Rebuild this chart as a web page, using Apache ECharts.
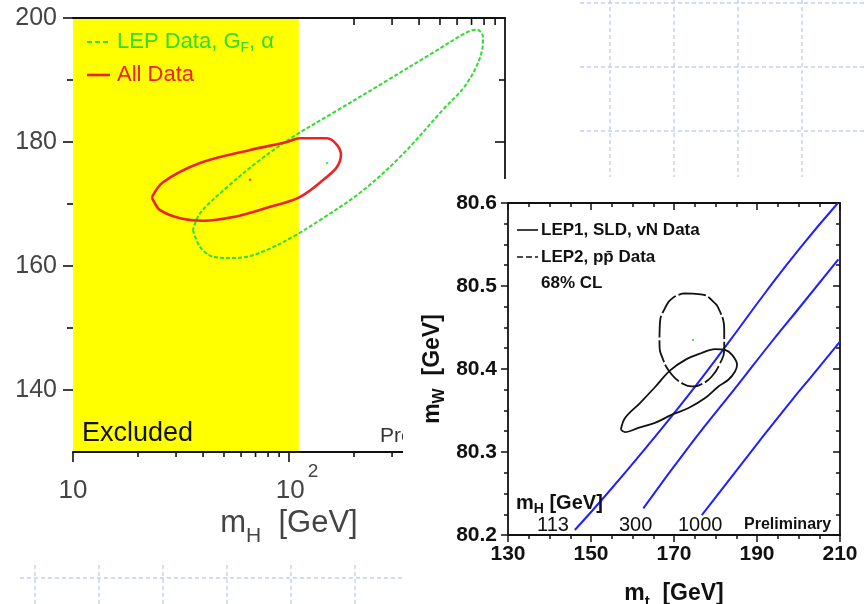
<!DOCTYPE html>
<html><head><meta charset="utf-8">
<script src="https://cdn.jsdelivr.net/npm/echarts@6/dist/echarts.min.js"></script>
<style>html,body{margin:0;padding:0;background:#fff}#c{width:865px;height:604px}</style>
</head><body><div id="c"></div>
<script>
// ===== Left panel: m_t [GeV] vs m_H [GeV] (log) =====
const leftXRange = [10, 1000];
const leftYRange = [130, 200];
const excludedBand = [10, 111];           // m_H excluded (yellow)
const leftXMinorTicks = [20,30,40,50,60,70,80,90,200,300,400,500,600,700,800,900];
const leftYMajorTicks = [140,160,180,200];
const leftYMinorTicks = [150,170,190];
const lepDataCurve = [[35.9,165.8],[38.7,163.1],[44.5,161.5],[53.3,161.3],[63.9,161.5],[79.1,162.6],[104,164.7],[139,167.4],[213,171.8],[327,177.6],[516,185.2],[667,189.5],[783,194.8],[791,196.9],[742,198.1],[667,197.7],[464,194.4],[272,189.5],[160,184.7],[104,180.8],[73.4,177.1],[51.6,172.7],[38.7,168.5],[35.9,165.8]];
const allDataCurve = [[23.2,171.1],[26.1,173.5],[38.7,176.6],[66.0,178.7],[97.9,180.0],[112,180.6],[150,180.6],[167,179.5],[174,177.9],[167,176.0],[150,174.4],[112,171.1],[79.1,169.4],[55.1,167.9],[40.0,167.3],[31.3,167.7],[25.3,169.0],[23.5,170.6],[23.2,171.1]];
const lepDataCenter = [[150,176.6]];
const allDataCenter = [[66,173.9]];

// ===== Right panel: m_W [GeV] vs m_t [GeV] =====
const rightXRange = [130, 210];
const rightYRange = [80.2, 80.6];
const lep1Curve = [[157.2,80.327],[158.2,80.341],[161.8,80.359],[165.4,80.378],[169.0,80.398],[172.7,80.411],[176.5,80.419],[179.9,80.424],[182.3,80.423],[184.0,80.417],[185.2,80.405],[184.7,80.397],[183.1,80.387],[180.7,80.379],[177.5,80.365],[173.5,80.353],[169.5,80.345],[165.4,80.335],[161.4,80.329],[158.2,80.324],[157.2,80.327]];
const lep2Curve = [[172.4,80.491],[176.5,80.490],[179.1,80.483],[181.1,80.469],[182.1,80.447],[182.1,80.423],[181.1,80.407],[179.1,80.391],[176.7,80.382],[174.3,80.379],[171.9,80.383],[169.5,80.393],[167.4,80.411],[166.5,80.431],[166.6,80.455],[167.8,80.473],[169.8,80.486],[172.4,80.491]];
const lep2Center = [[174.6,80.435]];
const mh113Line = [[146.1,80.206],[153.4,80.247],[164.2,80.311],[173.1,80.366],[182.7,80.429],[192.3,80.494],[200.4,80.546],[209.5,80.600]];
const mh300Line = [[162.6,80.232],[174.6,80.313],[185.1,80.379],[192.3,80.425],[200.4,80.475],[209.6,80.532]];
const mh1000Line = [[176.7,80.224],[190.7,80.314],[198.8,80.365],[202.8,80.389],[210.0,80.433]];

const FONT = 'Liberation Sans, Arial, sans-serif';
const GREEN = '#2fdc2f', RED = '#ee2222', BLUE = '#1f1fff';

function tickSeries(values, axis, at, dir, len) {
  return {
    type: 'custom', xAxisIndex: 0, yAxisIndex: 0, z: 1, silent: true, clip: false,
    data: values.map(v => [v]),
    renderItem(params, api) {
      const v = api.value(0);
      const p = axis === 'x' ? api.coord([v, at]) : api.coord([at, v]);
      let x2 = p[0], y2 = p[1];
      if (dir === 'down') y2 += len; else if (dir === 'left') x2 -= len;
      return { type: 'line', shape: { x1: p[0], y1: p[1], x2: x2, y2: y2 }, style: { stroke: '#111', lineWidth: 1.6 } };
    }
  };
}

const curve = (data, color, width, dash, xi, yi, z, smooth) => ({
  type: 'line', data, xAxisIndex: xi, yAxisIndex: yi, smooth: smooth === undefined ? 0.35 : smooth, showSymbol: false, silent: true,
  z: z, lineStyle: { color, width, type: dash || 'solid' }
});

const axisLineStyle = { lineStyle: { color: '#111', width: 1.8 } };

const decoLines = [];
const dash = { stroke: '#c5cdf5', lineWidth: 1.4, lineDash: [4, 3] };
[3, 67, 131].forEach(y => decoLines.push({ type: 'line', z: -1, shape: { x1: 580, y1: y, x2: 865, y2: y }, style: dash }));
[610, 674, 738, 802].forEach(x => decoLines.push({ type: 'line', z: -1, shape: { x1: x, y1: 0, x2: x, y2: 177 }, style: dash }));
decoLines.push({ type: 'line', z: -1, shape: { x1: 20, y1: 578, x2: 403, y2: 578 }, style: dash });
[35, 99, 163, 227, 291, 355].forEach(x => decoLines.push({ type: 'line', z: -1, shape: { x1: x, y1: 565, x2: x, y2: 604 }, style: dash }));

const chart = echarts.init(document.getElementById('c'), null, { renderer: 'canvas' });
chart.setOption({
  animation: false,
  backgroundColor: '#fff',
  grid: [
    { left: 73, top: 18, width: 432, height: 434, outerBoundsMode: 'none' },
    { left: 508, top: 203, width: 332, height: 332, outerBoundsMode: 'none', z: 20 }
  ],
  xAxis: [
    { gridIndex: 0, type: 'log', logBase: 10, min: leftXRange[0], max: leftXRange[1], position: 'bottom', z: 3,
      axisLine: axisLineStyle, splitLine: { show: false },
      axisTick: { show: true, inside: false, length: 10, lineStyle: { color: '#111', width: 1.6 } },
      axisLabel: { margin: 10, color: '#444', fontSize: 26, fontFamily: FONT, hideOverlap: false,
        formatter: v => { const r = Math.round(v); return r === 10 ? '{p|10}' : (r === 100 ? '{a|10}{sup|2}' : ''); },
        rich: { p: { fontSize: 26, color: '#444', fontFamily: FONT, padding: [16, 0, 0, 0] },
                a: { fontSize: 26, color: '#444', fontFamily: FONT, padding: [16, 0, 0, 16] },
                sup: { fontSize: 19, color: '#444', fontFamily: FONT, padding: [0, 0, 23, 3] } } },
      name: '{a|m}{sub|H}{a|  [GeV]}', nameLocation: 'middle', nameGap: 48, nameMoveOverlap: false,
      nameTextStyle: { color: '#444', fontSize: 31, fontFamily: FONT,
        rich: { a: { fontSize: 31, color: '#444', fontFamily: FONT }, sub: { fontSize: 21, color: '#444', fontFamily: FONT, padding: [26, 0, 0, 0] } } } },
    { gridIndex: 0, type: 'log', logBase: 10, min: leftXRange[0], max: leftXRange[1], position: 'top', z: 3,
      axisLine: axisLineStyle, axisTick: { show: false }, axisLabel: { show: false }, splitLine: { show: false } },
    { gridIndex: 1, type: 'value', min: rightXRange[0], max: rightXRange[1], interval: 20, position: 'bottom', z: 20,
      axisLine: axisLineStyle, splitLine: { show: false },
      axisTick: { inside: false, length: 7, lineStyle: { color: '#111', width: 1.5 } },
      minorTick: { show: true, splitNumber: 4, length: 4, lineStyle: { color: '#111', width: 1.5 } },
      axisLabel: { margin: 9, color: '#111', fontSize: 21, fontFamily: FONT, fontWeight: 'bold' },
      name: '{a|m}{sub|t}{a|  [GeV]}', nameLocation: 'middle', nameGap: 43, nameMoveOverlap: false,
      nameTextStyle: { color: '#111', fontSize: 23, fontFamily: FONT, fontWeight: 'bold',
        rich: { a: { fontSize: 23, color: '#111', fontFamily: FONT, fontWeight: 'bold' }, sub: { fontSize: 15, color: '#111', fontFamily: FONT, fontWeight: 'bold', padding: [16, 0, 0, 0] } } } },
    { gridIndex: 1, type: 'value', min: rightXRange[0], max: rightXRange[1], interval: 20, position: 'top', z: 20,
      axisLine: axisLineStyle, splitLine: { show: false }, axisLabel: { show: false },
      axisTick: { inside: true, length: 7, lineStyle: { color: '#111', width: 1.5 } },
      minorTick: { show: true, splitNumber: 4, length: 4, lineStyle: { color: '#111', width: 1.5 } } }
  ],
  yAxis: [
    { gridIndex: 0, type: 'value', min: leftYRange[0], max: leftYRange[1], interval: 10, position: 'left', z: 3,
      axisLine: { show: false }, axisTick: { show: false }, splitLine: { show: false },
      axisLabel: { margin: 16, color: '#444', fontSize: 25, fontFamily: FONT, formatter: v => (v % 20 === 0 ? String(v) : '') } },
    { gridIndex: 0, type: 'value', min: leftYRange[0], max: leftYRange[1], interval: 10, position: 'right', z: 3,
      axisLine: axisLineStyle, axisTick: { show: false }, axisLabel: { show: false }, splitLine: { show: false } },
    { gridIndex: 1, type: 'value', min: rightYRange[0], max: rightYRange[1], interval: 0.1, position: 'left', z: 20,
      axisLine: axisLineStyle, splitLine: { show: false },
      axisTick: { inside: false, length: 7, lineStyle: { color: '#111', width: 1.5 } },
      minorTick: { show: true, splitNumber: 4, length: 4, lineStyle: { color: '#111', width: 1.5 } },
      axisLabel: { margin: 11, color: '#111', fontSize: 21, fontFamily: FONT, fontWeight: 'bold', formatter: v => v.toFixed(1) },
      name: '{a|m}{sub|W}{a|  [GeV]}', nameLocation: 'middle', nameGap: 60, nameRotate: 90, nameMoveOverlap: false,
      nameTextStyle: { color: '#111', fontSize: 23, fontFamily: FONT, fontWeight: 'bold',
        rich: { a: { fontSize: 23, color: '#111', fontFamily: FONT, fontWeight: 'bold' }, sub: { fontSize: 16, color: '#111', fontFamily: FONT, fontWeight: 'bold', padding: [15, 0, 0, 0] } } } },
    { gridIndex: 1, type: 'value', min: rightYRange[0], max: rightYRange[1], interval: 0.1, position: 'right', z: 20,
      axisLine: axisLineStyle, splitLine: { show: false }, axisLabel: { show: false },
      axisTick: { inside: true, length: 7, lineStyle: { color: '#111', width: 1.5 } },
      minorTick: { show: true, splitNumber: 4, length: 4, lineStyle: { color: '#111', width: 1.5 } } }
  ],
  series: [
    tickSeries(leftXMinorTicks, 'x', leftYRange[0], 'down', 5),
    tickSeries(leftXMinorTicks, 'x', leftYRange[1], 'down', 7),
    tickSeries(leftYMajorTicks, 'y', leftXRange[0], 'left', 10),
    tickSeries(leftYMinorTicks, 'y', leftXRange[0], 'left', 6),
    tickSeries(leftYMajorTicks, 'y', leftXRange[1], 'left', 10),
    tickSeries(leftYMinorTicks, 'y', leftXRange[1], 'left', 6),
    { type: 'custom', xAxisIndex: 0, yAxisIndex: 0, z: 2, silent: true,
      data: [excludedBand],
      renderItem(params, api) {
        const a = api.coord([api.value(0), leftYRange[0]]);
        const b = api.coord([api.value(1), leftYRange[1]]);
        return { type: 'rect', shape: { x: a[0], y: b[1], width: b[0] - a[0], height: a[1] - b[1] }, style: { fill: '#ffff00' } };
      } },
    curve(lepDataCurve, GREEN, 2, [4, 2], 0, 0, 4),
    curve(allDataCurve, RED, 2.6, 'solid', 0, 0, 4),
    { type: 'scatter', data: lepDataCenter, xAxisIndex: 0, yAxisIndex: 0, symbolSize: 2.5, itemStyle: { color: GREEN }, z: 4, silent: true },
    { type: 'scatter', data: allDataCenter, xAxisIndex: 0, yAxisIndex: 0, symbolSize: 2.5, itemStyle: { color: RED }, z: 4, silent: true },
    curve(mh113Line, BLUE, 2, 'solid', 2, 2, 21, 0.5),
    curve(mh300Line, BLUE, 2, 'solid', 2, 2, 21, 0.5),
    curve(mh1000Line, BLUE, 2, 'solid', 2, 2, 21, 0.5),
    curve(lep1Curve, '#111', 1.8, 'solid', 2, 2, 22),
    curve(lep2Curve, '#111', 1.8, [22, 3], 2, 2, 22, 0.5),
    { type: 'scatter', data: lep2Center, xAxisIndex: 2, yAxisIndex: 2, symbolSize: 2.5, itemStyle: { color: GREEN }, z: 22, silent: true }
  ],
  graphic: decoLines.concat([
    // left panel texts
    { type: 'line', z: 5, shape: { x1: 87, y1: 42, x2: 111, y2: 42 }, style: { stroke: GREEN, lineWidth: 2, lineDash: [5, 3] } },
    { type: 'text', z: 5, x: 117, y: 42, style: { text: 'LEP Data, G{sub|F}, α', fill: GREEN, font: '22px ' + FONT, verticalAlign: 'middle',
        rich: { sub: { fontSize: 14, fill: GREEN, padding: [12, 0, 0, 0] } } } },
    { type: 'line', z: 5, shape: { x1: 87, y1: 75, x2: 110, y2: 75 }, style: { stroke: RED, lineWidth: 2.6 } },
    { type: 'text', z: 5, x: 117, y: 75, style: { text: 'All Data', fill: RED, font: '22px ' + FONT, verticalAlign: 'middle' } },
    { type: 'text', z: 5, x: 82, y: 434, style: { text: 'Excluded', fill: '#111', font: '27px ' + FONT, verticalAlign: 'middle' } },
    { type: 'text', z: 5, x: 380, y: 436, style: { text: 'Preliminary', fill: '#333', font: '21px ' + FONT, verticalAlign: 'middle' } },
    // inset background
    { type: 'rect', z: 10, shape: { x: 403, y: 179, width: 462, height: 425 }, style: { fill: '#fff' } },
    // right panel texts
    { type: 'line', z: 30, shape: { x1: 517, y1: 230, x2: 538, y2: 230 }, style: { stroke: '#111', lineWidth: 1.6 } },
    { type: 'text', z: 30, x: 541, y: 230, style: { text: 'LEP1, SLD, vN Data', fill: '#111', font: 'bold 17px ' + FONT, verticalAlign: 'middle' } },
    { type: 'line', z: 30, shape: { x1: 517, y1: 257, x2: 538, y2: 257 }, style: { stroke: '#111', lineWidth: 1.6, lineDash: [6, 3] } },
    { type: 'text', z: 30, x: 541, y: 257, style: { text: 'LEP2, pp\u0304 Data', fill: '#111', font: 'bold 17px ' + FONT, verticalAlign: 'middle' } },
    { type: 'text', z: 30, x: 541, y: 283, style: { text: '68% CL', fill: '#111', font: 'bold 17px ' + FONT, verticalAlign: 'middle' } },
    { type: 'text', z: 30, x: 516, y: 503, style: { text: 'm{sub|H} [GeV]', fill: '#111', font: 'bold 20px ' + FONT, verticalAlign: 'middle',
        rich: { sub: { fontSize: 14, fontWeight: 'bold', fill: '#111', padding: [12, 0, 0, 0] } } } },
    { type: 'text', z: 30, x: 537, y: 525, style: { text: '113', fill: '#111', font: '20px ' + FONT, verticalAlign: 'middle' } },
    { type: 'text', z: 30, x: 619, y: 525, style: { text: '300', fill: '#111', font: '20px ' + FONT, verticalAlign: 'middle' } },
    { type: 'text', z: 30, x: 678, y: 525, style: { text: '1000', fill: '#111', font: '20px ' + FONT, verticalAlign: 'middle' } },
    { type: 'text', z: 30, x: 744, y: 525, style: { text: 'Preliminary', fill: '#111', font: 'bold 16px ' + FONT, verticalAlign: 'middle' } }
  ])
});
</script></body></html>
